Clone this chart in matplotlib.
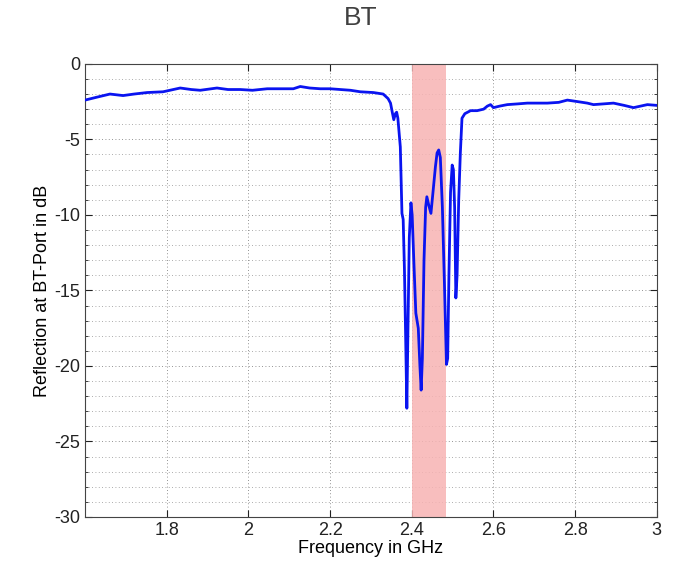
import numpy as np
import matplotlib as mpl
mpl.use('Agg')
import matplotlib.pyplot as plt
from matplotlib.ticker import MultipleLocator

# Reflection curve (GHz, dB)
freq = [1.600, 1.630, 1.661, 1.693, 1.720, 1.752, 1.791, 1.833, 1.860, 1.882,
        1.923, 1.950, 1.980, 2.010, 2.046, 2.080, 2.110, 2.127, 2.150, 2.176,
        2.200, 2.225, 2.250, 2.274, 2.306, 2.330, 2.342, 2.348, 2.353, 2.356,
        2.360, 2.363, 2.366, 2.372, 2.376, 2.379, 2.382, 2.385, 2.388, 2.391,
        2.394, 2.398, 2.401, 2.405, 2.410, 2.416, 2.420, 2.423, 2.426, 2.430,
        2.434, 2.437, 2.442, 2.447, 2.452, 2.458, 2.462, 2.466, 2.470, 2.475,
        2.480, 2.485, 2.488, 2.491, 2.495, 2.499, 2.502, 2.505, 2.508, 2.511,
        2.515, 2.519, 2.523, 2.530, 2.544, 2.560, 2.576, 2.585, 2.593, 2.600,
        2.615, 2.634, 2.660, 2.683, 2.710, 2.732, 2.760, 2.781, 2.806, 2.830,
        2.845, 2.870, 2.894, 2.920, 2.943, 2.960, 2.977, 3.000]
refl = [-2.4, -2.2, -2.0, -2.1, -2.0, -1.9, -1.85, -1.6, -1.7, -1.75,
        -1.6, -1.7, -1.7, -1.75, -1.65, -1.65, -1.65, -1.5, -1.6, -1.65,
        -1.65, -1.7, -1.75, -1.85, -1.9, -2.0, -2.3, -2.6, -3.3, -3.7,
        -3.3, -3.2, -3.6, -5.5, -9.9, -10.3, -13.5, -18.0, -22.8, -17.0,
        -11.5, -9.2, -10.0, -13.0, -16.5, -17.5, -20.0, -21.6, -19.5, -13.0,
        -9.5, -8.8, -9.4, -9.9, -8.5, -6.8, -5.9, -5.7, -6.2, -9.5,
        -14.5, -19.9, -19.5, -14.0, -8.5, -6.7, -7.0, -9.5, -15.5, -14.0,
        -9.0, -5.9, -3.6, -3.3, -3.1, -3.1, -3.0, -2.8, -2.7, -2.9,
        -2.8, -2.7, -2.65, -2.6, -2.6, -2.6, -2.55, -2.4, -2.5, -2.6,
        -2.7, -2.65, -2.6, -2.75, -2.9, -2.8, -2.7, -2.75]

# Bluetooth band
band = [2.4, 2.4835]
xticks = [1.8, 2.0, 2.2, 2.4, 2.6, 2.8, 3.0]
xticklabels = ['1.8', '2', '2.2', '2.4', '2.6', '2.8', '3']
yticks = [0, -5, -10, -15, -20, -25, -30]

plt.rcParams['font.family'] = ['Liberation Sans', 'DejaVu Sans']
plt.rcParams['axes.unicode_minus'] = False

fig = plt.figure(figsize=(6.75, 5.7), dpi=100)
ax = fig.add_axes([0.126, 0.093, 0.847, 0.795])

ax.axvspan(band[0], band[1], color='#f7b3b3', alpha=0.85, lw=0, zorder=1)
ax.plot(freq, refl, color='#0a14f0', lw=2.0, zorder=3)

ax.set_xlim(1.6, 3.0)
ax.set_ylim(-30, 0)
ax.set_xticks(xticks)
ax.set_xticklabels(xticklabels)
ax.set_yticks(yticks)
ax.yaxis.set_minor_locator(MultipleLocator(1))

ax.grid(which='major', color='#707070', linestyle=(0, (1, 3)), lw=0.6, zorder=0)
ax.grid(which='minor', axis='y', color='#909090', linestyle=(0, (1, 3)), lw=0.6, zorder=0)
ax.set_axisbelow(True)

ax.tick_params(which='both', direction='in', top=True, right=True,
               labelsize=13, colors='#222222')
ax.tick_params(which='major', length=5)
ax.tick_params(which='minor', length=2.5)
for sp in ax.spines.values():
    sp.set_color('#444444')
    sp.set_linewidth(0.8)

ax.set_xlabel('Frequency in GHz', fontsize=13, labelpad=1)
ax.set_ylabel('Reflection at BT-Port in dB', fontsize=13, labelpad=2)
fig.text(0.534, 0.968, 'BT', fontsize=19, color='#404040', ha='center', va='center')

plt.savefig('out.png', dpi=100)
